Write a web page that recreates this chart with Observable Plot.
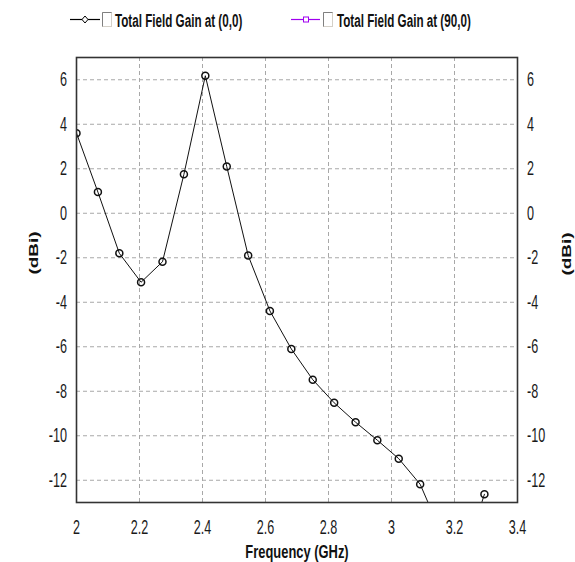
<!DOCTYPE html>
<html><head><meta charset="utf-8">
<script src="https://cdn.jsdelivr.net/npm/d3@7"></script>
<script src="https://cdn.jsdelivr.net/npm/@observablehq/plot@0.6"></script>
<style>
body{margin:0;background:#fff;font-family:"Liberation Sans",Arial,sans-serif;}
#legend{display:block;}
#chart svg{display:block;}
</style></head><body>
<svg id="legend" width="575" height="40"></svg>
<div id="chart"></div>
<script>
const frequency = [2.000,2.068,2.136,2.205,2.273,2.341,2.409,2.477,2.545,2.614,2.682,2.750,2.818,2.886,2.955,3.023,3.091,3.159,3.227,3.295];
const gain00 = [3.6,0.95,-1.8,-3.1,-2.18,1.75,6.18,2.1,-1.9,-4.39,-6.1,-7.48,-8.52,-9.39,-10.2,-11.03,-12.18,-14.4,-15.6,-12.63];
const xTicks = [2,2.2,2.4,2.6,2.8,3,3.2,3.4];
const yTicks = [-12,-10,-8,-6,-4,-2,0,2,4,6];
const seriesNames = ["Total Field Gain at (0,0)","Total Field Gain at (90,0)"];
const seriesColors = ["#000000","#a000f0"];
const xLabel = "Frequency (GHz)";
const yLabel = "(dBi)";

function num(v){ if (v==null) return 0; const n = Number(v); return isFinite(n) ? n : 0; }
function squeeze(root, factor){
  root.querySelectorAll("text").forEach(t=>{
    const s = factor(t);
    const tr = t.getAttribute("transform")||"";
    let ax=0, ay=0;
    const m = tr.match(/translate\(\s*([-\d.e]+)[ ,]+([-\d.e]+)\s*\)/);
    if (m){ax=num(m[1]); ay=num(m[2]);}
    ax += num(t.getAttribute("x"));
    ay += num(t.getAttribute("y"));
    t.setAttribute("transform", `translate(${ax},${ay}) scale(${s},1) translate(${-ax},${-ay}) ${tr}`);
  });
}
function fontSizeOf(t){
  let n = t;
  while (n && n.getAttribute) { const fs = n.getAttribute("font-size"); if (fs) return parseFloat(fs); n = n.parentNode; }
  return 0;
}

// Legend
const lg = d3.select("#legend");
const items = [
  {x0:70, x1:100, mk:85, cb:102.5, tx:115, shape:"diamond"},
  {x0:291, x1:320, mk:306, cb:323.5, tx:337, shape:"square"}
];
items.forEach((it,i)=>{
  const c = seriesColors[i];
  lg.append("line").attr("x1",it.x0).attr("x2",it.x1).attr("y1",19.5).attr("y2",19.5).attr("stroke",c).attr("stroke-width",1.2);
  if (it.shape==="diamond")
    lg.append("path").attr("d",`M${it.mk},16 L${it.mk+3},19.5 L${it.mk},23 L${it.mk-3},19.5 Z`).attr("fill","#fff").attr("stroke",c);
  else
    lg.append("rect").attr("x",it.mk-2.5).attr("y",17).attr("width",5).attr("height",5).attr("fill","#fff").attr("stroke",c);
  lg.append("rect").attr("x",it.cb).attr("y",12.5).attr("width",9).attr("height",14).attr("fill","#fff").attr("stroke","#d4d0c8");
  lg.append("path").attr("d",`M${it.cb},26.5 L${it.cb},12.5 L${it.cb+9},12.5`).attr("fill","none").attr("stroke","#808080");
  lg.append("text").attr("x",it.tx).attr("y",27).attr("font-size",18.5).attr("font-weight","bold")
    .attr("font-family","Liberation Sans, Arial, sans-serif").attr("fill","#111").text(seriesNames[i]);
});
squeeze(document.getElementById("legend"), () => 0.63);

const data = frequency.map((f,i)=>({f, g: gain00[i]}));
const gridStyle = {stroke:"#a8a8a8", strokeOpacity:1, strokeDasharray:"4,3"};
const fmt = d => String(d);
const chart = Plot.plot({
  width:575, height:522,
  marginTop:17, marginBottom:60, marginLeft:76, marginRight:58,
  style:{fontFamily:"Liberation Sans, Arial, sans-serif", fontSize:"20px", color:"#1a1a1a", background:"#fff", overflow:"visible"},
  x:{domain:[2,3.4]},
  y:{domain:[-13,7]},
  marks:[
    Plot.gridX(xTicks.slice(1,-1), gridStyle),
    Plot.gridY(yTicks, gridStyle),
    Plot.line(data,{x:"f",y:"g",stroke:"#111",strokeWidth:1, clip:true}),
    Plot.dot(data,{x:"f",y:"g",r:3.5,stroke:"#111",fill:"none", clip:true}),
    Plot.frame({stroke:"#333",strokeWidth:1.6}),
    Plot.axisX(xTicks,{tickSize:0, tickPadding:17, label:null, fontSize:20, tickFormat:fmt}),
    Plot.axisY(yTicks,{anchor:"left", tickSize:0, tickPadding:9.5, label:null, fontSize:20, tickFormat:fmt}),
    Plot.axisY(yTicks,{anchor:"right", tickSize:0, tickPadding:9.5, label:null, fontSize:20, tickFormat:fmt}),
    Plot.text([xLabel], {text:d=>d, frameAnchor:"bottom", lineAnchor:"middle", dy:49, fontWeight:"bold", fontSize:19, fill:"#111"}),
    Plot.text([yLabel], {text:d=>d, frameAnchor:"left", textAnchor:"middle", lineAnchor:"middle", rotate:-90, dx:-43, dy:-27, fontWeight:"bold", fontSize:19, fill:"#111"}),
    Plot.text([yLabel], {text:d=>d, frameAnchor:"right", textAnchor:"middle", lineAnchor:"middle", rotate:-90, dx:49, dy:-26, fontWeight:"bold", fontSize:19, fill:"#111"})
  ]
});
squeeze(chart, t => fontSizeOf(t) === 20 ? 0.63 : 0.68);
document.getElementById("chart").append(chart);
</script>
</body></html>
